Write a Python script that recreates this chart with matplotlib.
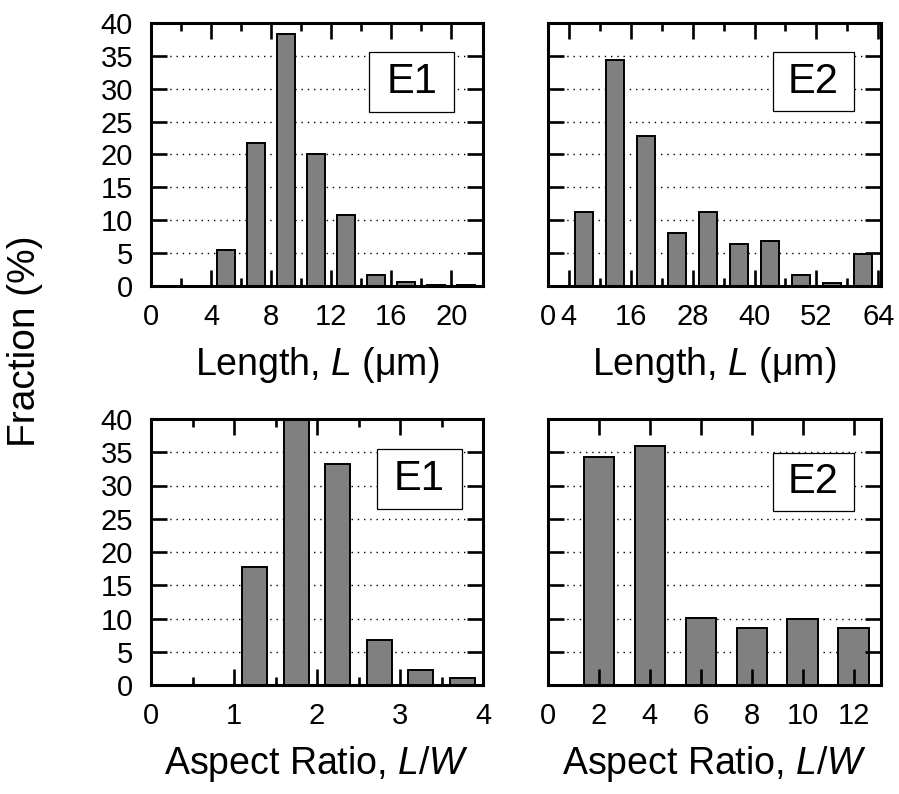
import matplotlib
matplotlib.use("Agg")
import matplotlib.pyplot as plt
from matplotlib.patches import Rectangle

plt.rcParams['font.family'] = ['Liberation Sans', 'DejaVu Sans']
plt.rcParams['mathtext.fontset'] = 'custom'
plt.rcParams['mathtext.rm'] = 'Liberation Sans'
plt.rcParams['mathtext.it'] = 'Liberation Sans:italic'

# --- data (fraction in %) ---
len_e1_centers = [5, 7, 9, 11, 13, 15, 17, 19, 21]
len_e1_values = [5.4, 21.8, 38.4, 20.0, 10.8, 1.7, 0.6, 0.2, 0.15]

len_e2_centers = [7, 13, 19, 25, 31, 37, 43, 49, 55, 61]
len_e2_values = [11.3, 34.3, 22.8, 8.0, 11.3, 6.4, 6.8, 1.6, 0.5, 4.8]

ar_e1_centers = [1.25, 1.75, 2.25, 2.75, 3.25, 3.75]
ar_e1_values = [17.8, 40.5, 33.3, 6.7, 2.3, 1.0]

ar_e2_centers = [2, 4, 6, 8, 10, 12]
ar_e2_values = [34.3, 35.9, 10.1, 8.5, 10.0, 8.5]

len_e1_ticks = [0, 4, 8, 12, 16, 20]
len_e1_minor = [2, 6, 10, 14, 18]
len_e2_ticks = [0, 4, 16, 28, 40, 52, 64]
len_e2_minor = [10, 22, 34, 46, 58]
ar_e1_ticks = [0, 1, 2, 3, 4]
ar_e1_minor = [0.5, 1.5, 2.5, 3.5]
ar_e2_ticks = [0, 2, 4, 6, 8, 10, 12]
y_ticks = [0, 5, 10, 15, 20, 25, 30, 35, 40]

len_label = 'Length, $L$ (\u03bcm)'
ar_label = 'Aspect Ratio, $L$/$W$'

W, H = 899, 794
fig = plt.figure(figsize=(W / 100, H / 100), dpi=100)


def make_axes(x0, x1, y0, y1):
    # pixel box (y from top) -> figure fraction
    return fig.add_axes([x0 / W, (H - y1) / H, (x1 - x0) / W, (y1 - y0) / H])


panels = [
    # axes box, centers, values, width, xlim, ticks, minor, label, tag, tag box, y labels
    ((151, 483, 23, 286), len_e1_centers, len_e1_values, 1.2, (0, 22.1),
     len_e1_ticks, len_e1_minor, len_label, 'E1', (0.657, 0.66, 0.256, 0.229), True),
    ((548, 881, 23, 286), len_e2_centers, len_e2_values, 3.6, (0, 64.5),
     len_e2_ticks, len_e2_minor, len_label, 'E2', (0.676, 0.666, 0.243, 0.223), False),
    ((151, 483, 419, 685), ar_e1_centers, ar_e1_values, 0.3, (0, 4),
     ar_e1_ticks, ar_e1_minor, ar_label, 'E1', (0.68, 0.662, 0.257, 0.225), True),
    ((548, 881, 419, 685), ar_e2_centers, ar_e2_values, 1.2, (0, 13.07),
     ar_e2_ticks, [], ar_label, 'E2', (0.676, 0.654, 0.243, 0.219), False),
]

for box, centers, values, width, xlim, ticks, minor, xlabel, tag, tagbox, show_y in panels:
    ax = make_axes(*box)
    ax.bar(centers, values, width=width, color='#808080', edgecolor='black',
           linewidth=1.4, zorder=1)
    ax.set_xlim(*xlim)
    ax.set_ylim(0, 40)
    ax.set_xticks(ticks)
    ax.set_xticks(minor, minor=True)
    ax.set_yticks(y_ticks)
    if not show_y:
        ax.set_yticklabels([])

    # dotted grid behind the bars, ticks stay on top
    for yv in y_ticks[1:-1]:
        ax.axhline(yv, color='black', linewidth=1.0, linestyle=(0, (1, 3.5)), zorder=0.5)

    ax.tick_params(which='both', direction='in', top=True, right=True,
                   width=1.9, labelsize=21)
    ax.tick_params(which='major', length=11.5)
    ax.tick_params(which='minor', length=6)
    ax.tick_params(axis='x', pad=12)
    ax.tick_params(axis='y', pad=13)
    for sp in ax.spines.values():
        sp.set_linewidth(2.2)

    ax.set_xlabel(xlabel, fontsize=27, labelpad=10)

    bx, by, bw, bh = tagbox
    ax.add_patch(Rectangle((bx, by), bw, bh, transform=ax.transAxes,
                           facecolor='white', edgecolor='black', linewidth=0.9, zorder=3))
    ax.text(bx + bw / 2, by + bh / 2, tag, transform=ax.transAxes,
            ha='center', va='center', fontsize=30, zorder=4)

fig.text(0.028, 0.57, 'Fraction (%)', rotation=90, ha='center', va='center', fontsize=28)

plt.savefig("out.png", dpi=100)
